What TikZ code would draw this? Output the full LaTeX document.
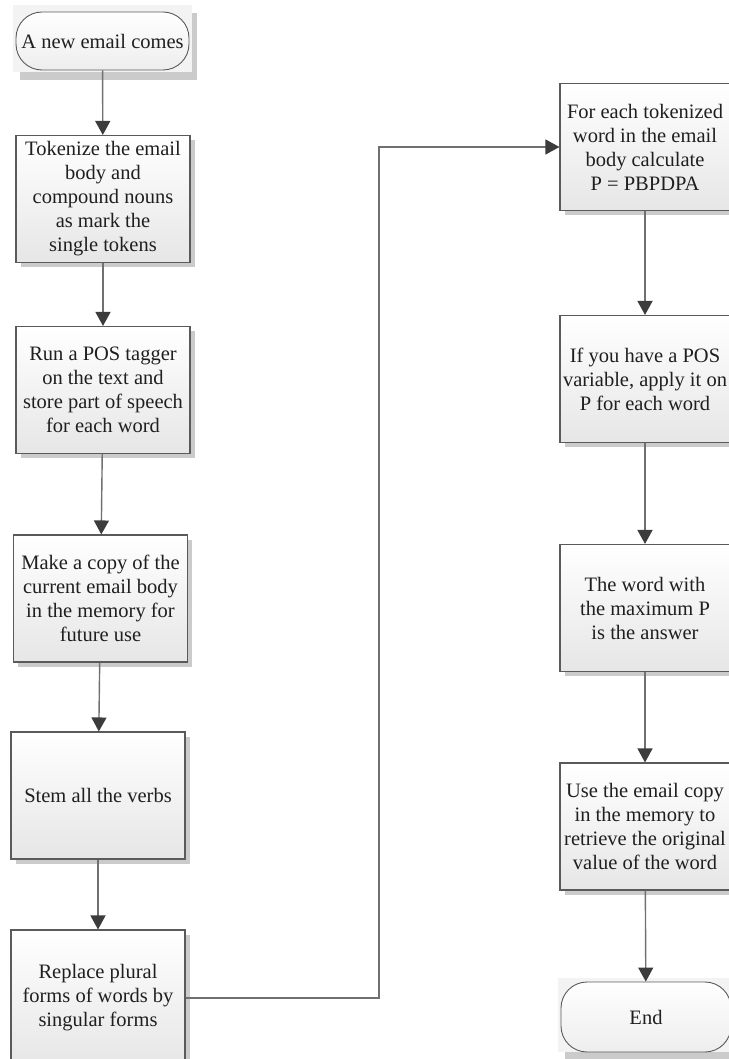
\documentclass[tikz,border=0pt]{standalone}
\usepackage{fontspec}
\setmainfont{Liberation Serif}
\usetikzlibrary{arrows.meta}
\usetikzlibrary{shadows}
\usetikzlibrary{calc}
\usetikzlibrary{backgrounds}

\definecolor{edgegray}{HTML}{5A5A5A}
\definecolor{linegray}{HTML}{707070}
\definecolor{tipgray}{HTML}{3C3C3C}
\definecolor{boxbottom}{HTML}{E6E6E6}
\definecolor{shadowgray}{HTML}{CBCBCB}
\definecolor{termback}{HTML}{F3F3F3}

\newcommand{\flowfont}{\fontsize{20.5}{24}\selectfont}

\tikzset{
  stepbox/.style={rectangle, draw=edgegray, line width=1.1pt, top color=white,
    bottom color=boxbottom, minimum width=174pt, minimum height=127pt,
    align=center, inner sep=2pt, font=\flowfont, text=black!88,
    drop shadow={shadow xshift=4.5pt, shadow yshift=-4.5pt, fill=shadowgray, opacity=1}},
  termbox/.style={rectangle, rounded corners=26pt, draw=edgegray, line width=0.9pt,
    top color=white, bottom color=boxbottom!70, minimum width=173pt,
    minimum height=58pt, inner sep=1pt, font=\flowfont, text=black!88},
  flow/.style={draw=linegray, line width=1.4pt,
    -{Triangle[width=15pt,length=14pt,color=tipgray]}},
}

\begin{document}
\begin{tikzpicture}[x=1pt,y=-1pt]
        \useasboundingbox (0,0) rectangle (728,1059);

        % left column
        \node[termbox] (start) at (102.5,41) {A new email comes};
        \node[stepbox] (tokenize) at (103,199) {Tokenize the email\\body and\\compound nouns\\as mark the\\single tokens};
        \node[stepbox] (tagger) at (103,390) {Run a POS tagger\\on the text and\\store part of speech\\for each word};
        \node[stepbox] (copy) at (100.5,598.5) {Make a copy of the\\current email body\\in the memory for\\future use};
        \node[stepbox] (stem) at (98,795.5) {Stem all the verbs};
        \node[stepbox, minimum height=136pt] (plural) at (98,998) {Replace plural\\forms of words by\\singular forms};

        % right column
        \node[stepbox, minimum width=170pt] (calcp) at (645,147) {For each tokenized\\word in the email\\body calculate\\P = PBPDPA};
        \node[stepbox, minimum width=170pt] (posvar) at (645,379) {If you have a POS\\variable, apply it on\\P for each word};
        \node[stepbox, minimum width=170pt] (maxp) at (645,608) {The word with\\the maximum P\\is the answer};
        \node[stepbox, minimum width=170pt] (restore) at (645,826.5) {Use the email copy\\in the memory to\\retrieve the original\\value of the word};
        \node[termbox, minimum width=170pt, minimum height=70pt] (finish) at (646,1017) {End};

        \begin{scope}[on background layer]
            \fill[shadowgray] ($(start.north west)+(4,1)$) rectangle ($(start.south east)+(8,10)$);
            \fill[termback] ($(start.north west)+(-3,-7)$) rectangle ($(start.south east)+(3,2)$);
            \fill[shadowgray] ($(finish.north west)+(4,8)$) rectangle ($(finish.south east)+(8,7)$);
            \fill[termback] ($(finish.north west)+(-3,-4)$) rectangle ($(finish.south east)+(3,0)$);
        \end{scope}

        \coordinate (turn) at (379,998);

        \draw[flow] (start) -- (tokenize);
        \draw[flow] (tokenize) -- (tagger);
        \draw[flow] (tagger) -- (copy);
        \draw[flow] (copy) -- (stem);
        \draw[flow] (stem) -- (plural);
        \draw[flow, line width=1.1pt] (plural.east) -- (turn) |- (calcp.west);
        \draw[flow] (calcp) -- (posvar);
        \draw[flow] (posvar) -- (maxp);
        \draw[flow] (maxp) -- (restore);
        \draw[flow] (restore) -- (finish);
    \end{tikzpicture}
\end{document}
